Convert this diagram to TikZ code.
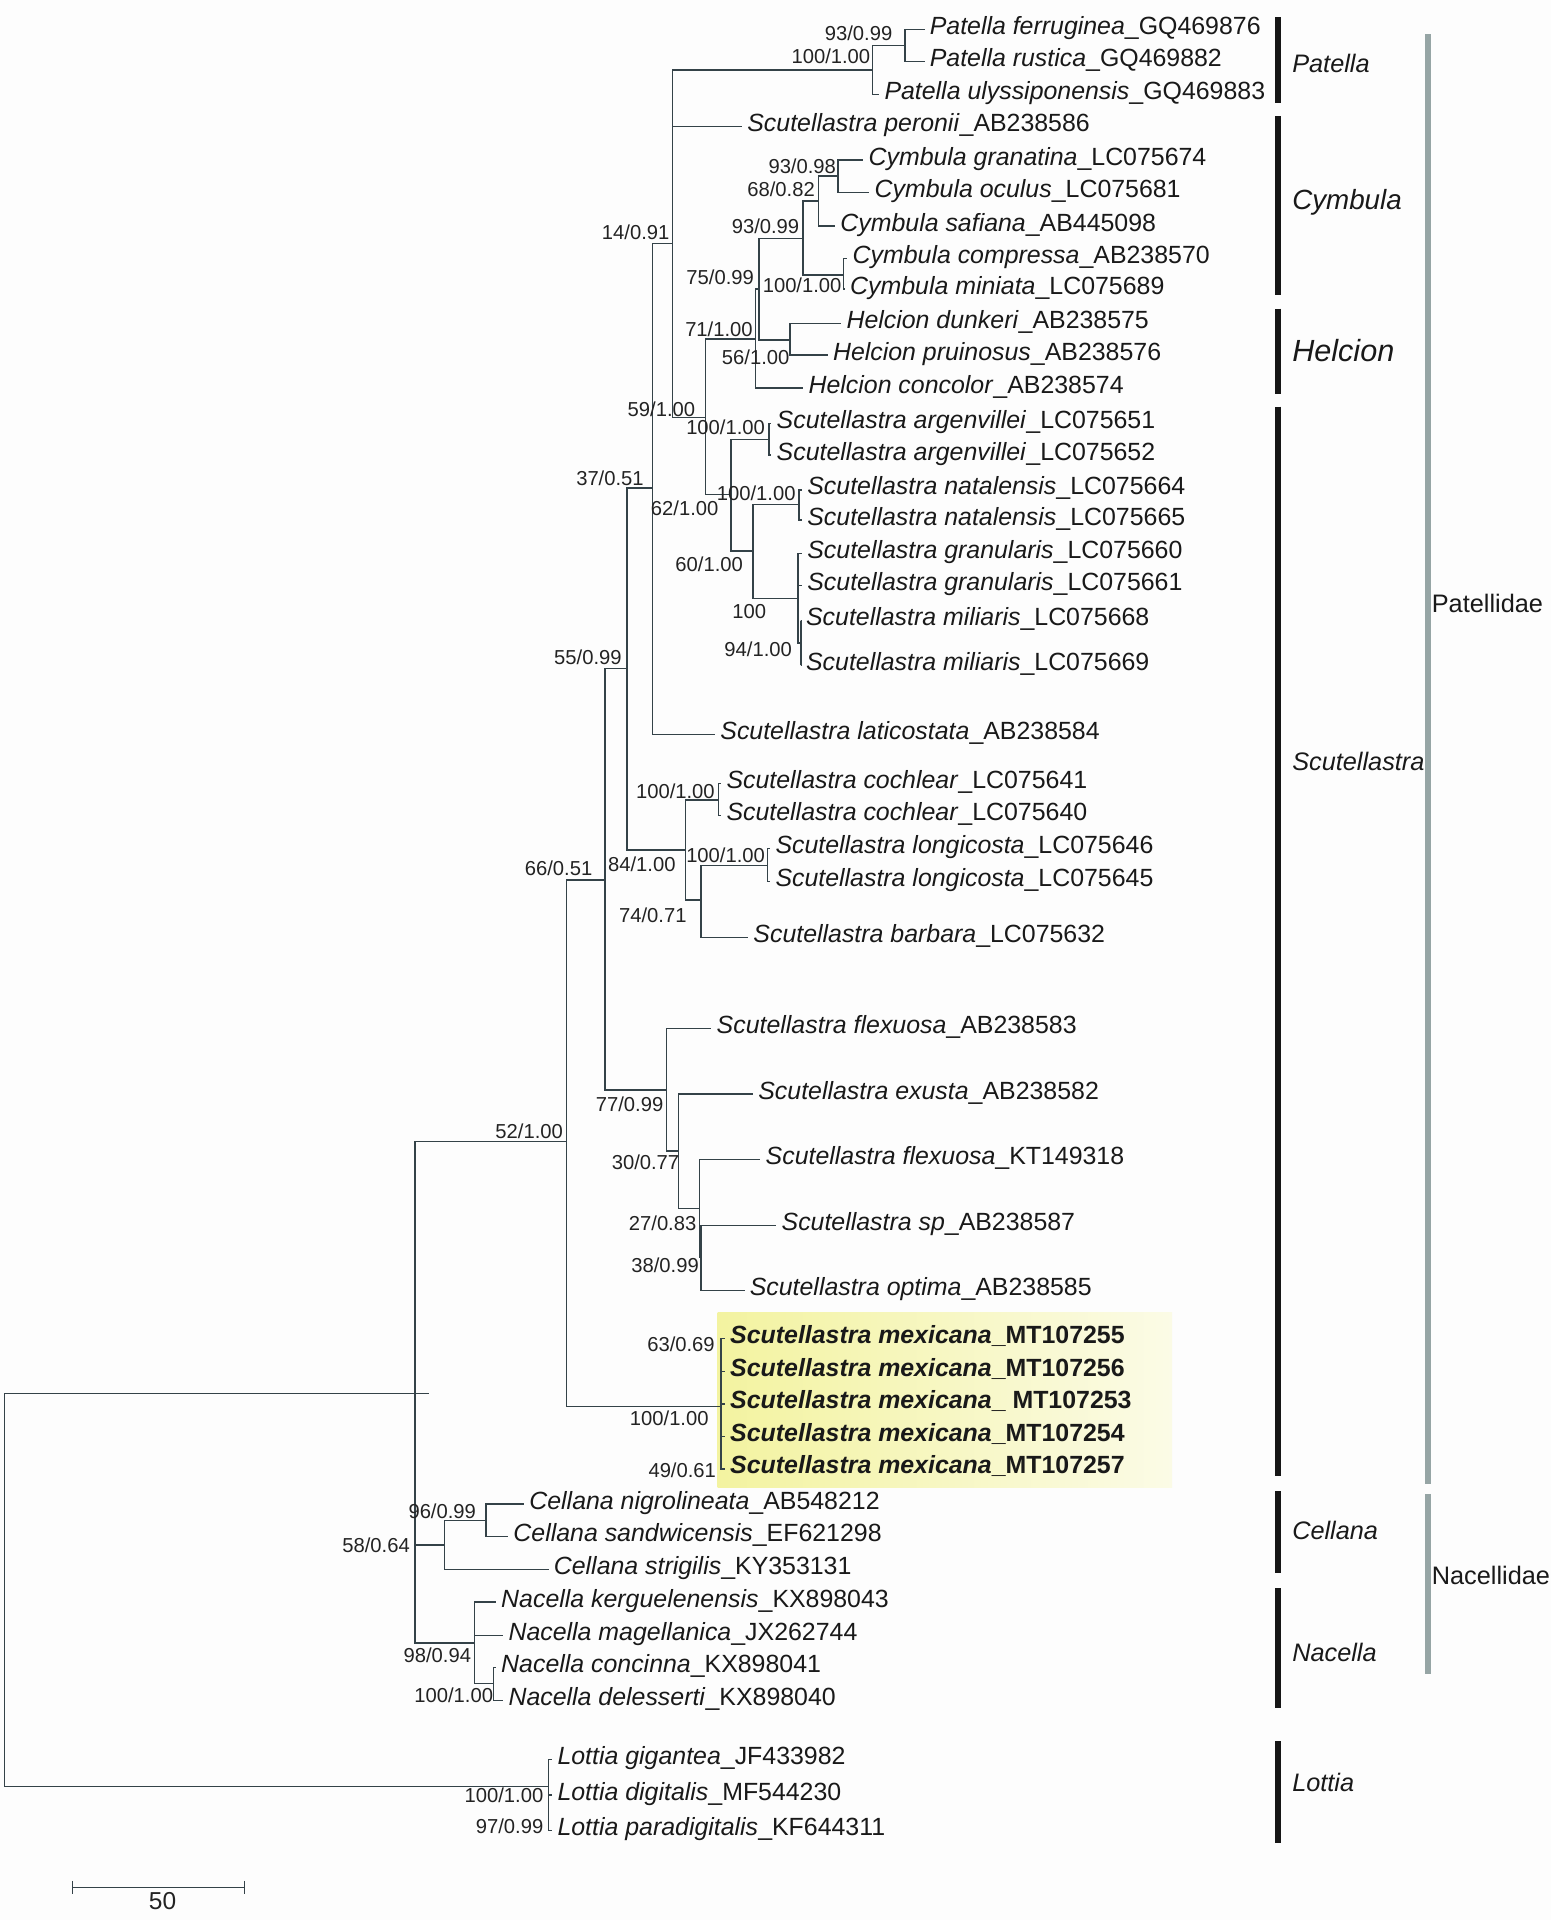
\documentclass[tikz,border=0pt]{standalone}
\usepackage{fontspec}
\setmainfont{Liberation Sans}
\usetikzlibrary{calc}
\definecolor{bgcol}{RGB}{253,253,253}
\definecolor{treecol}{RGB}{52,66,72}
\definecolor{txtcol}{RGB}{25,25,25}
\definecolor{labcol}{RGB}{35,35,35}
\definecolor{barcol}{RGB}{22,22,22}
\definecolor{famcol}{RGB}{150,165,165}
\definecolor{hlleft}{RGB}{243,243,160}
\definecolor{hlright}{RGB}{251,251,230}
\newcommand\taxn[2]{\textit{#1}\_#2}
\tikzset{
  br/.style={draw=treecol, line width=0.7pt},
  tax/.style={anchor=west, inner xsep=2.4pt, inner ysep=0pt, text height=0.7em, text depth=0.2em,
    font=\fontsize{12.2}{14}\selectfont, text=txtcol},
  taxb/.style={tax, font=\fontsize{12.2}{14}\selectfont\bfseries},
  bsv/.style={anchor=east, inner sep=0pt, text height=0.72em, text depth=0pt,
    font=\fontsize{9.9}{11}\selectfont, text=labcol},
  genus/.style={anchor=west, inner sep=0pt, text height=0.72em, text depth=0pt,
    font=\itshape\fontsize{12.4}{14}\selectfont, text=txtcol},
  fam/.style={anchor=west, inner sep=0pt, text height=0.72em, text depth=0pt,
    font=\fontsize{12.4}{14}\selectfont, text=txtcol},
  gbar/.style={draw=barcol, line width=2.7pt},
  fbar/.style={draw=famcol, line width=2.8pt},
}
\begin{document}
\begin{tikzpicture}[x=0.6pt,y=-0.6pt]
\fill[bgcol] (0,0) rectangle (1267,1568);
\useasboundingbox (0,0) rectangle (1267,1568);

% highlight box
\shade[left color=hlleft, right color=hlright] (586,1071.5) rectangle (957.2,1214.4);

% ---------- internal nodes ----------
\coordinate (root) at (3.6,1298.5);
\coordinate (F) at (339,1137.8);
\coordinate (Fover) at (350.6,1137.8);
\coordinate (L) at (448,1459);
\coordinate (E) at (462.6,932);
\coordinate (Mex) at (588.7,1148.5);
\coordinate (D) at (494,718.8);
\coordinate (C) at (512,546);
\coordinate (B) at (533,398.6);
\coordinate (A) at (549,199);
\coordinate (Pat) at (712.7,57);
\coordinate (P93) at (739,37);
\coordinate (N59) at (576,340.8);
\coordinate (N71) at (617,277);
\coordinate (N75) at (620,236);
\coordinate (H56) at (645,277.7);
\coordinate (Cy93) at (655.7,194.7);
\coordinate (Cy68) at (668.4,164.2);
\coordinate (Cy9398) at (684.2,143.8);
\coordinate (Cy100) at (688.9,224.6);
\coordinate (N62) at (597,404);
\coordinate (Arg) at (628,359);
\coordinate (N60) at (615,450);
\coordinate (Nat) at (652.4,412);
\coordinate (N100) at (651.7,488.7);
\coordinate (Mil) at (654.3,525);
\coordinate (N84) at (560,694);
\coordinate (Coc) at (586.8,653.3);
\coordinate (N74) at (572.4,735);
\coordinate (Lon) at (627,706.6);
\coordinate (N77) at (544.3,890);
\coordinate (N30) at (554.2,940);
\coordinate (N27) at (571.2,987);
\coordinate (N38) at (572.4,1027);
\coordinate (Cel) at (363,1261.6);
\coordinate (Cel96) at (397,1241.6);
\coordinate (Nac) at (387.5,1341.8);
\coordinate (Nac100) at (403,1375);

% ---------- leaves ----------
\node[tax] (t1) at (755,24) {\taxn{Patella ferruginea}{GQ469876}};
\node[tax] (t2) at (755,50) {\taxn{Patella rustica}{GQ469882}};
\node[tax] (t3) at (718,77) {\taxn{Patella ulyssiponensis}{GQ469883}};
\node[tax] (t4) at (606,103.5) {\taxn{Scutellastra peronii}{AB238586}};
\node[tax] (t5) at (705,130.7) {\taxn{Cymbula granatina}{LC075674}};
\node[tax] (t6) at (710,157) {\taxn{Cymbula oculus}{LC075681}};
\node[tax] (t7) at (682,184.6) {\taxn{Cymbula safiana}{AB445098}};
\node[tax] (t8) at (692,211) {\taxn{Cymbula compressa}{AB238570}};
\node[tax] (t9) at (690,236) {\taxn{Cymbula miniata}{LC075689}};
\node[tax] (t10) at (687,264) {\taxn{Helcion dunkeri}{AB238575}};
\node[tax] (t11) at (676,290) {\taxn{Helcion pruinosus}{AB238576}};
\node[tax] (t12) at (656,317) {\taxn{Helcion concolor}{AB238574}};
\node[tax] (t13) at (630,345.8) {\taxn{Scutellastra argenvillei}{LC075651}};
\node[tax] (t14) at (630,371.7) {\taxn{Scutellastra argenvillei}{LC075652}};
\node[tax] (t15) at (655,400) {\taxn{Scutellastra natalensis}{LC075664}};
\node[tax] (t16) at (655,424.8) {\taxn{Scutellastra natalensis}{LC075665}};
\node[tax] (t17) at (655,452) {\taxn{Scutellastra granularis}{LC075660}};
\node[tax] (t18) at (655,478) {\taxn{Scutellastra granularis}{LC075661}};
\node[tax] (t19) at (654,507) {\taxn{Scutellastra miliaris}{LC075668}};
\node[tax] (t20) at (654,543) {\taxn{Scutellastra miliaris}{LC075669}};
\node[tax] (t21) at (584,600) {\taxn{Scutellastra laticostata}{AB238584}};
\node[tax] (t22) at (589,640) {\taxn{Scutellastra cochlear}{LC075641}};
\node[tax] (t23) at (589,665.8) {\taxn{Scutellastra cochlear}{LC075640}};
\node[tax] (t24) at (629,692.8) {\taxn{Scutellastra longicosta}{LC075646}};
\node[tax] (t25) at (629,720) {\taxn{Scutellastra longicosta}{LC075645}};
\node[tax] (t26) at (611,765.6) {\taxn{Scutellastra barbara}{LC075632}};
\node[tax] (t27) at (581,840) {\taxn{Scutellastra flexuosa}{AB238583}};
\node[tax] (t28) at (615,893.6) {\taxn{Scutellastra exusta}{AB238582}};
\node[tax] (t29) at (621,947) {\taxn{Scutellastra flexuosa}{KT149318}};
\node[tax] (t30) at (634,1000.7) {\taxn{Scutellastra sp}{AB238587}};
\node[tax] (t31) at (608,1053.7) {\taxn{Scutellastra optima}{AB238585}};
\node[taxb] (t32) at (592,1093) {\taxn{Scutellastra mexicana}{MT107255}};
\node[taxb] (t33) at (592,1120) {\taxn{Scutellastra mexicana}{MT107256}};
\node[taxb] (t34) at (592,1146.5) {\taxn{Scutellastra mexicana}{\ MT107253}};
\node[taxb] (t35) at (592,1173) {\taxn{Scutellastra mexicana}{MT107254}};
\node[taxb] (t36) at (592,1199.5) {\taxn{Scutellastra mexicana}{MT107257}};
\node[tax] (t37) at (428,1228.2) {\taxn{Cellana nigrolineata}{AB548212}};
\node[tax] (t38) at (415,1254.7) {\taxn{Cellana sandwicensis}{EF621298}};
\node[tax] (t39) at (448,1281.6) {\taxn{Cellana strigilis}{KY353131}};
\node[tax] (t40) at (405,1308.3) {\taxn{Nacella kerguelenensis}{KX898043}};
\node[tax] (t41) at (411,1335.8) {\taxn{Nacella magellanica}{JX262744}};
\node[tax] (t42) at (405,1362) {\taxn{Nacella concinna}{KX898041}};
\node[tax] (t43) at (411,1388.7) {\taxn{Nacella delesserti}{KX898040}};
\node[tax] (t44) at (451,1437) {\taxn{Lottia gigantea}{JF433982}};
\node[tax] (t45) at (451,1466) {\taxn{Lottia digitalis}{MF544230}};
\node[tax] (t46) at (451,1495) {\taxn{Lottia paradigitalis}{KF644311}};

% ---------- branches ----------
\draw[br] (root) |- (F);
\draw[br] (F) -- (Fover);
\draw[br] (root) |- (L);
\draw[br] (L) |- (t44.west);
\draw[br] (L) |- (t45.west);
\draw[br] (L) |- (t46.west);
\draw[br] (F) |- (E);
\draw[br] (F) |- (Cel);
\draw[br] (F) |- (Nac);
\draw[br] (E) |- (D);
\draw[br] (E) |- (Mex);
\foreach \t in {t32,t33,t34,t35,t36} {\draw[br] (Mex) |- (\t.west);}
\draw[br] (D) |- (C);
\draw[br] (D) |- (N77);
\draw[br] (C) |- (B);
\draw[br] (C) |- (N84);
\draw[br] (B) |- (A);
\draw[br] (B) |- (t21.west);
\draw[br] (A) |- (Pat);
\draw[br] (A) |- (t4.west);
\draw[br] (A) |- (N59);
\draw[br] (Pat) |- (P93);
\draw[br] (Pat) |- (t3.west);
\draw[br] (P93) |- (t1.west);
\draw[br] (P93) |- (t2.west);
\draw[br] (N59) |- (N71);
\draw[br] (N59) |- (N62);
\draw[br] (N71) |- (N75);
\draw[br] (N71) |- (t12.west);
\draw[br] (N75) |- (Cy93);
\draw[br] (N75) |- (H56);
\draw[br] (H56) |- (t10.west);
\draw[br] (H56) |- (t11.west);
\draw[br] (Cy93) |- (Cy68);
\draw[br] (Cy93) |- (Cy100);
\draw[br] (Cy68) |- (Cy9398);
\draw[br] (Cy68) |- (t7.west);
\draw[br] (Cy9398) |- (t5.west);
\draw[br] (Cy9398) |- (t6.west);
\draw[br] (Cy100) |- (t8.west);
\draw[br] (Cy100) |- (t9.west);
\draw[br] (N62) |- (Arg);
\draw[br] (N62) |- (N60);
\draw[br] (Arg) |- (t13.west);
\draw[br] (Arg) |- (t14.west);
\draw[br] (N60) |- (Nat);
\draw[br] (N60) |- (N100);
\draw[br] (Nat) |- (t15.west);
\draw[br] (Nat) |- (t16.west);
\draw[br] (N100) |- (t17.west);
\draw[br] (N100) |- (t18.west);
\draw[br] (N100) |- (Mil);
\draw[br] (Mil) |- (t19.west);
\draw[br] (Mil) |- (t20.west);
\draw[br] (N84) |- (Coc);
\draw[br] (N84) |- (N74);
\draw[br] (Coc) |- (t22.west);
\draw[br] (Coc) |- (t23.west);
\draw[br] (N74) |- (Lon);
\draw[br] (N74) |- (t26.west);
\draw[br] (Lon) |- (t24.west);
\draw[br] (Lon) |- (t25.west);
\draw[br] (N77) |- (t27.west);
\draw[br] (N77) |- (N30);
\draw[br] (N30) |- (t28.west);
\draw[br] (N30) |- (N27);
\draw[br] (N27) |- (t29.west);
\draw[br] (N27) |- (N38);
\draw[br] (N38) |- (t30.west);
\draw[br] (N38) |- (t31.west);
\draw[br] (Cel) |- (Cel96);
\draw[br] (Cel) |- (t39.west);
\draw[br] (Cel96) |- (t37.west);
\draw[br] (Cel96) |- (t38.west);
\draw[br] (Nac) |- (t40.west);
\draw[br] (Nac) |- (t41.west);
\draw[br] (Nac) |- (Nac100);
\draw[br] (Nac100) |- (t42.west);
\draw[br] (Nac100) |- (t43.west);

% ---------- support values ----------
\node[bsv] (s1) at (729,27) {93/0.99};
\node[bsv] (s2) at (711,46) {100/1.00};
\node[bsv] (s3) at (683,136) {93/0.98};
\node[bsv] (s4) at (665.7,154.4) {68/0.82};
\node[bsv] (s5) at (653,184.3) {93/0.99};
\node[bsv] (s6) at (547,190) {14/0.91};
\node[bsv] (s7) at (616,226.5) {75/0.99};
\node[bsv] (s8) at (687.5,232.8) {100/1.00};
\node[bsv] (s9) at (615,268.7) {71/1.00};
\node[bsv] (s10) at (645,292) {56/1.00};
\node[bsv] (s11) at (568,334) {59/1.00};
\node[bsv] (s12) at (625,349) {100/1.00};
\node[bsv] (s13) at (526,390.6) {37/0.51};
\node[bsv] (s14) at (650,403) {100/1.00};
\node[bsv] (s15) at (587,415) {62/1.00};
\node[bsv] (s16) at (607,461) {60/1.00};
\node[bsv] (s17) at (626,499) {100};
\node[bsv] (s18) at (647,530) {94/1.00};
\node[bsv] (s19) at (508,537) {55/0.99};
\node[bsv] (s20) at (584,646) {100/1.00};
\node[bsv] (s21) at (625,698) {100/1.00};
\node[bsv] (s22) at (552,705.7) {84/1.00};
\node[bsv] (s23) at (484,709) {66/0.51};
\node[bsv] (s24) at (561,747) {74/0.71};
\node[bsv] (s25) at (542,902) {77/0.99};
\node[bsv] (s26) at (460,924) {52/1.00};
\node[bsv] (s27) at (555,949) {30/0.77};
\node[bsv] (s28) at (569,999) {27/0.83};
\node[bsv] (s29) at (571,1033) {38/0.99};
\node[bsv] (s30) at (584,1098) {63/0.69};
\node[bsv] (s31) at (579,1158) {100/1.00};
\node[bsv] (s32) at (585,1201) {49/0.61};
\node[bsv] (s33) at (389,1234) {96/0.99};
\node[bsv] (s34) at (335,1262) {58/0.64};
\node[bsv] (s35) at (385,1352) {98/0.94};
\node[bsv] (s36) at (403,1384) {100/1.00};
\node[bsv] (s37) at (444,1466) {100/1.00};
\node[bsv] (s38) at (444,1491) {97/0.99};

% ---------- genus bars ----------
\coordinate (gPa1) at (1043.8,14);   \coordinate (gPa2) at (1043.8,84);
\coordinate (gCy1) at (1043.8,95);   \coordinate (gCy2) at (1043.8,241);
\coordinate (gHe1) at (1043.8,252);  \coordinate (gHe2) at (1043.8,322);
\coordinate (gSc1) at (1043.8,332);  \coordinate (gSc2) at (1043.8,1205);
\coordinate (gCe1) at (1043.8,1218); \coordinate (gCe2) at (1043.8,1285);
\coordinate (gNa1) at (1043.8,1297); \coordinate (gNa2) at (1043.8,1395);
\coordinate (gLo1) at (1043.8,1422); \coordinate (gLo2) at (1043.8,1505);
\draw[gbar] (gPa1) -- (gPa2);
\draw[gbar] (gCy1) -- (gCy2);
\draw[gbar] (gHe1) -- (gHe2);
\draw[gbar] (gSc1) -- (gSc2);
\draw[gbar] (gCe1) -- (gCe2);
\draw[gbar] (gNa1) -- (gNa2);
\draw[gbar] (gLo1) -- (gLo2);
\node[genus] (gPa) at (1055,53) {Patella};
\node[genus, font=\itshape\fontsize{13.6}{15}\selectfont] (gCy) at (1055,165) {Cymbula};
\node[genus, font=\itshape\fontsize{15}{17}\selectfont] (gHe) at (1055,289) {Helcion};
\node[genus] (gSc) at (1055,623) {Scutellastra};
\node[genus] (gCe) at (1055,1251) {Cellana};
\node[genus] (gNa) at (1055,1351) {Nacella};
\node[genus] (gLo) at (1055,1457) {Lottia};

% ---------- family bars ----------
\coordinate (fPa1) at (1166.3,28);   \coordinate (fPa2) at (1166.3,1212);
\coordinate (fNa1) at (1166.3,1220); \coordinate (fNa2) at (1166.3,1367);
\draw[fbar] (fPa1) -- (fPa2);
\draw[fbar] (fNa1) -- (fNa2);
\node[fam] (fPa) at (1169,494) {Patellidae};
\node[fam] (fNa) at (1169,1288) {Nacellidae};

% ---------- scale bar ----------
\coordinate (sb1) at (59,1541.5);
\coordinate (sb2) at (199.5,1541.5);
\draw[br] (sb1) -- (sb2);
\draw[br] ($(sb1)+(0,-5.5)$) -- ($(sb1)+(0,5)$);
\draw[br] ($(sb2)+(0,-5.5)$) -- ($(sb2)+(0,5)$);
\node[inner sep=0pt, text height=0.72em, text depth=0pt, font=\fontsize{12}{14}\selectfont, text=labcol] (sbl) at (132.8,1553.5) {50};
\end{tikzpicture}
\end{document}
